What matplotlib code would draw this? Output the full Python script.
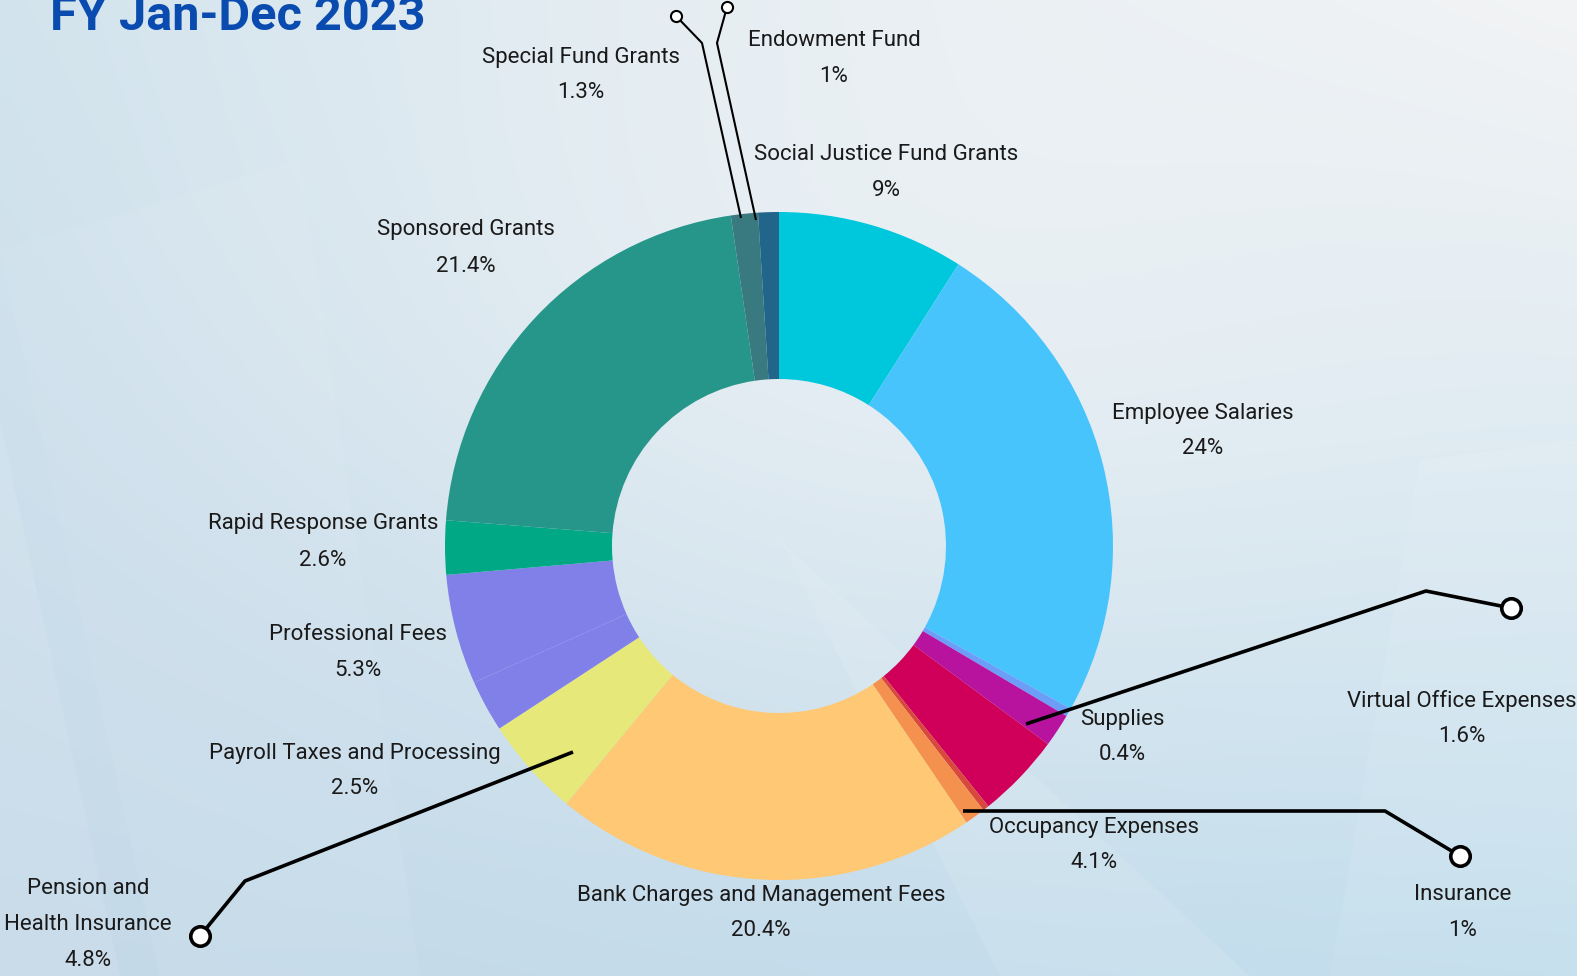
import numpy as np
import matplotlib
matplotlib.use("Agg")
import matplotlib.pyplot as plt
from matplotlib.patches import Polygon

plt.rcParams['font.family'] = ['Roboto', 'DejaVu Sans']

# ---------------- data (clockwise from 12 o'clock) ----------------
categories = [
    "Social Justice Fund Grants", "Employee Salaries", "Supplies",
    "Virtual Office Expenses", "Occupancy Expenses", "", "Insurance",
    "Bank Charges and Management Fees", "Pension and\nHealth Insurance",
    "Payroll Taxes and Processing", "Professional Fees",
    "Rapid Response Grants", "Sponsored Grants", "Special Fund Grants",
    "Endowment Fund",
]
values = [9, 24, 0.4, 1.6, 4.1, 0.3, 1, 20.4, 4.8, 2.5, 5.3, 2.6, 21.4, 1.3, 1]
pct_labels = ["9%", "24%", "0.4%", "1.6%", "4.1%", "", "1%", "20.4%", "4.8%",
              "2.5%", "5.3%", "2.6%", "21.4%", "1.3%", "1%"]
colors = ["#00C8DC", "#48C4FC", "#6C9EF8", "#B8139E", "#D0005A", "#D9483C",
          "#F5914E", "#FFC875", "#E6E87A", "#8080E8", "#8080E8", "#00A886",
          "#27968A", "#387A80", "#21668A"]

# label anchor positions (image pixels, x centre / y of first line)
label_pos = [(886, 155), (1203, 413), (1122, 719), (1462, 701), (1094, 827),
             None, (1463, 894), (761, 895), (88, 888), (355, 753),
             (358, 634), (323, 524), (466, 230), (581, 57), (834, 41)]

W, H = 1577, 976
fig = plt.figure(figsize=(W / 100, H / 100), dpi=100)

# background gradient
yy, xx = np.mgrid[0:H, 0:W]
u, v = xx / W, yy / H
tl, tr = np.array([0.82, 0.89, 0.93]), np.array([0.95, 0.955, 0.96])
bl, br = np.array([0.77, 0.85, 0.91]), np.array([0.76, 0.87, 0.93])
bg = ((1 - u) * (1 - v))[..., None] * tl + (u * (1 - v))[..., None] * tr \
    + ((1 - u) * v)[..., None] * bl + (u * v)[..., None] * br
glow = np.exp(-(((xx - 900) / 600) ** 2 + ((yy - 250) / 420) ** 2))[..., None]
bg = bg * (1 - 0.5 * glow) + np.array([0.96, 0.965, 0.97]) * 0.5 * glow
bgax = fig.add_axes([0, 0, 1, 1])
bgax.imshow(np.clip(bg, 0, 1), extent=(0, W, H, 0), aspect='auto')
bgax.axis('off')

ax = fig.add_axes([0, 0, 1, 1])
ax.patch.set_alpha(0)

# faint geometric shapes
for pts, a in [([(0, 420), (120, 976), (0, 976)], 0.10),
               ([(780, 540), (1000, 976), (1250, 976)], 0.10),
               ([(1330, 976), (1420, 460), (1577, 440), (1577, 976)], 0.08),
               ([(0, 250), (300, 160), (420, 976), (160, 976)], 0.06)]:
    ax.add_patch(Polygon(pts, closed=True, facecolor='white', alpha=a, lw=0))

cx, cy, R = 779, 546, 334
wedges, _ = ax.pie(values, colors=colors, startangle=270, counterclock=True,
                   center=(cx, cy), radius=R,
                   wedgeprops=dict(width=R / 2, linewidth=0))

for name, pct, pos in zip(categories, pct_labels, label_pos):
    if pos is None:
        continue
    lines = (name + "\n" + pct).split("\n")
    for i, line in enumerate(lines):
        ax.text(pos[0], pos[1] + i * 36, line, ha='center', va='center',
                fontsize=16, color='#1a1a1a')

# leader lines
leaders = [
    ([1026, 1426, 1511], [724, 591, 608], 2.6, 7),
    ([963, 1385, 1460], [811, 811, 856], 2.6, 7),
    ([573, 245, 200], [752, 881, 936], 2.6, 7),
    ([741, 702, 676], [218, 43, 16], 1.5, 4),
    ([756, 717, 727], [220, 43, 7], 1.5, 4),
]
for xs, ys, lw, ms in leaders:
    ax.plot(xs, ys, color='black', lw=lw, solid_capstyle='butt')
    ax.plot(xs[-1], ys[-1], 'o', ms=ms * 2, mfc='white', mec='black',
            mew=lw)

ax.text(50, 30, "FY Jan-Dec 2023", ha='left', va='baseline', fontsize=35,
        fontweight='bold', color='#0A4BB0')

ax.set_xlim(0, W)
ax.set_ylim(H, 0)
ax.set_aspect('auto')
ax.axis('off')

fig.savefig("out.png", dpi=100)
